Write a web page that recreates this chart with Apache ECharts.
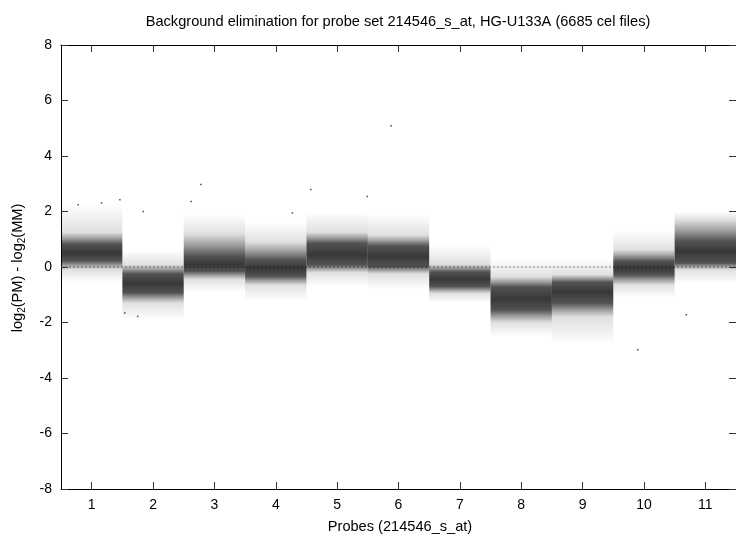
<!DOCTYPE html>
<html>
<head>
<meta charset="utf-8">
<script src="https://cdn.jsdelivr.net/npm/echarts@6/dist/echarts.min.js"></script>
<style>
html,body{margin:0;padding:0;background:#fff;}
#main{width:736px;height:537px;}
</style>
</head>
<body>
<div id="main"></div>
<script>
// ---- data ----
const probeLabels = ['1','2','3','4','5','6','7','8','9','10','11'];
const probeX      = [1, 2, 3, 4, 5, 6, 7, 8, 9, 10, 11];
// distribution summary of log2(PM)-log2(MM) per probe (approximate quantiles)
const lowExtent  = [-0.55, -1.9, -0.9, -1.2, -0.7, -0.8, -1.3, -2.5, -2.8, -1.1, -0.6];
const low05      = [-0.10, -1.30, -0.45, -0.65, -0.20, -0.25, -0.95, -2.00, -1.80, -0.65, -0.10];
const low25      = [0.22, -0.92, -0.15, -0.33, 0.08, 0.02, -0.70, -1.55, -1.30, -0.28, 0.14];
const medians    = [0.50, -0.60, 0.10, -0.05, 0.45, 0.38, -0.45, -1.15, -0.90, -0.05, 0.56];
const high75     = [0.82, -0.25, 0.38, 0.25, 0.85, 0.75, -0.18, -0.72, -0.55, 0.20, 0.92];
const high95     = [1.25, 0.08, 1.20, 0.90, 1.25, 1.15, 0.10, -0.35, -0.28, 0.62, 1.70];
const highExtent = [2.3, 0.6, 1.9, 1.6, 2.0, 1.9, 0.8, 0.3, 0.3, 1.3, 2.0];
// isolated points visible outside the clouds
const outlierX = [0.78, 1.16, 1.46, 1.84, 1.54, 1.75, 2.78, 2.62, 4.27, 4.57, 5.49, 5.88, 9.90, 10.69];
const outlierY = [2.24, 2.31, 2.42, 2.00, -1.66, -1.78, 2.97, 2.36, 1.95, 2.79, 2.54, 5.09, -2.98, -1.72];

const FONT = '"Liberation Sans", Arial, sans-serif';

const cloudData = probeX.map((p, i) => [p, lowExtent[i], low05[i], low25[i], medians[i], high75[i], high95[i], highExtent[i]]);
const outliers = outlierX.map((x, i) => [x, outlierY[i]]);

const chart = echarts.init(document.getElementById('main'), null, {renderer: 'canvas'});

function renderCloud(params, api) {
  const x = api.value(0);
  const vmin = api.value(1), v05 = api.value(2), v25 = api.value(3), vmed = api.value(4),
        v75 = api.value(5), v95 = api.value(6), vmax = api.value(7);
  const tl = api.coord([x - 0.5, vmax]);
  const br = api.coord([x + 0.5, vmin]);
  const span = vmax - vmin;
  const off = v => Math.min(1, Math.max(0, (vmax - v) / span));
  const c = a => 'rgba(0,0,0,' + a + ')';
  const grad = new echarts.graphic.LinearGradient(0, 0, 0, 1, [
    {offset: 0, color: c(0.0)},
    {offset: off(v95), color: c(0.12)},
    {offset: off((v95 + v75) / 2), color: c(0.38)},
    {offset: off(v75), color: c(0.68)},
    {offset: off(vmed), color: c(0.78)},
    {offset: off(v25), color: c(0.68)},
    {offset: off((v05 + v25) / 2), color: c(0.38)},
    {offset: off(v05), color: c(0.12)},
    {offset: 1, color: c(0.0)}
  ]);
  return {
    type: 'rect',
    shape: {x: tl[0], y: tl[1], width: br[0] - tl[0], height: br[1] - tl[1]},
    style: {fill: grad}
  };
}

const axisLineStyle = {color: '#000', width: 1};
const tickStyle = {color: '#333', width: 1};

chart.setOption({
  animation: false,
  backgroundColor: '#fff',
  grid: {left: 61, top: 45, width: 677, height: 444, containLabel: false},
  xAxis: [
    {
      type: 'category', data: probeLabels, position: 'bottom', boundaryGap: true,
      axisLine: {show: true, onZero: false, lineStyle: axisLineStyle},
      axisTick: {show: true, inside: true, length: 7, alignWithLabel: true, lineStyle: tickStyle},
      axisLabel: {show: true, margin: 9, color: '#000', fontSize: 14, fontFamily: FONT},
      splitLine: {show: false}
    },
    {
      type: 'category', data: probeLabels, position: 'top', boundaryGap: true,
      axisLine: {show: true, onZero: false, lineStyle: axisLineStyle},
      axisTick: {show: true, inside: true, length: 7, alignWithLabel: true, lineStyle: tickStyle},
      axisLabel: {show: false},
      splitLine: {show: false}
    },
    {
      type: 'value', min: 0.5, max: 11.5, show: false
    }
  ],
  yAxis: [
    {
      type: 'value', min: -8, max: 8, interval: 2, position: 'left',
      axisLine: {show: true, onZero: false, lineStyle: axisLineStyle},
      axisTick: {show: true, inside: true, length: 7, lineStyle: tickStyle},
      axisLabel: {show: true, margin: 9, color: '#000', fontSize: 14, fontFamily: FONT},
      splitLine: {show: false}
    },
    {
      type: 'value', min: -8, max: 8, interval: 2, position: 'right',
      axisLine: {show: true, onZero: false, lineStyle: axisLineStyle},
      axisTick: {show: true, inside: true, length: 7, lineStyle: tickStyle},
      axisLabel: {show: false},
      splitLine: {show: false}
    }
  ],
  series: [
    {
      type: 'line', xAxisIndex: 2, yAxisIndex: 0, z: 1,
      data: [[0.5, 0], [11.5, 0]], symbol: 'none', silent: true,
      lineStyle: {color: '#8a8a8a', width: 1, type: [2, 2]}
    },
    {
      type: 'custom', xAxisIndex: 2, yAxisIndex: 0, z: 2,
      renderItem: renderCloud,
      encode: {x: 0, y: [1, 2, 3, 4, 5, 6, 7]},
      data: cloudData, silent: true, clip: true
    },
    {
      type: 'scatter', xAxisIndex: 2, yAxisIndex: 0, z: 3,
      data: outliers, symbol: 'rect', symbolSize: 1.5, silent: true,
      itemStyle: {color: '#222'}
    }
  ],
  graphic: [
    {
      type: 'text', x: 398, y: 22, z: 10,
      style: {text: 'Background elimination for probe set 214546_s_at, HG-U133A (6685 cel files)',
        fill: '#000', font: '14.6px ' + FONT, textAlign: 'center', textVerticalAlign: 'middle'}
    },
    {
      type: 'text', x: 400, y: 527, z: 10,
      style: {text: 'Probes (214546_s_at)', fill: '#000', font: '14.6px ' + FONT,
        textAlign: 'center', textVerticalAlign: 'middle'}
    },
    {
      type: 'text', x: 18, y: 268, rotation: Math.PI / 2, z: 10,
      style: {
        text: 'log{sub|2}(PM) - log{sub|2}(MM)',
        fill: '#000', fontSize: 14.6, fontFamily: FONT,
        align: 'center', verticalAlign: 'middle',
        rich: {
          sub: {fontSize: 10, fontFamily: FONT, fill: '#000', padding: [8, 0, 0, 0]}
        }
      }
    }
  ]
});
</script>
</body>
</html>
